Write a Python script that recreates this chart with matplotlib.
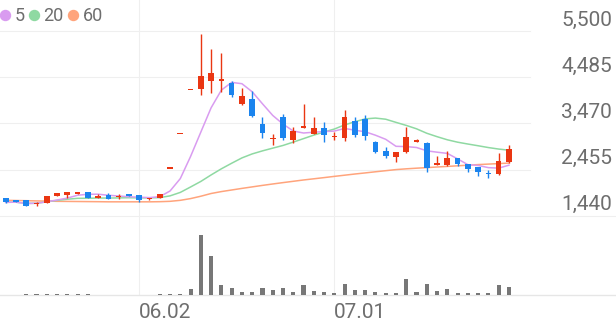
import numpy as np
import pandas as pd
import matplotlib.pyplot as plt
from matplotlib.lines import Line2D

plt.rcParams['font.family'] = ['Roboto', 'DejaVu Sans']

# daily candles, KRW
opens = [1824, 1780, 1787, 1692, 1728, 1875, 1897, 1926, 1956, 1838,
         1890, 1860, 1919, 1897, 1802, 1830, 2496, 3245, 4218, 4226,
         4408, 4401, 4351, 3890, 3999, 3452, 3127, 3604, 3105, 3362,
         3237, 3362, 3178, 3155, 3529, 3562, 3068, 2870, 2738, 2831,
         3080, 3046, 2556, 2556, 2703, 2571, 2505, 2387, 2352, 2628]
highs = [1835, 1785, 1792, 1735, 1880, 1940, 1960, 1970, 1970, 1919,
         1934, 1919, 1925, 1900, 1842, 1925, 2496, 3245, 4218, 5434,
         5098, 5010, 4401, 4241, 4182, 3604, 3237, 3687, 3397, 3907,
         3604, 3507, 3292, 3775, 3604, 3654, 3080, 2958, 2845, 3397,
         3120, 3068, 2754, 2870, 2720, 2580, 2510, 2446, 2813, 2995]
lows = [1725, 1738, 1650, 1662, 1722, 1870, 1824, 1920, 1835, 1835,
        1810, 1820, 1878, 1750, 1787, 1825, 2496, 3245, 4218, 4094,
        4131, 4160, 4043, 3874, 3617, 3160, 2995, 3105, 3040, 3362,
        3237, 3068, 3100, 3090, 3178, 3105, 2813, 2700, 2615, 2825,
        3060, 2409, 2550, 2540, 2540, 2409, 2314, 2264, 2345, 2607]
closes = [1736, 1743, 1655, 1728, 1875, 1934, 1956, 1963, 1838, 1882,
          1816, 1875, 1882, 1787, 1838, 1920, 2496, 3245, 4218, 4518,
          4588, 4438, 4094, 4072, 3632, 3270, 3157, 3143, 3310, 3413,
          3362, 3226, 3193, 3604, 3215, 3193, 2848, 2743, 2835, 3182,
          3095, 2483, 2593, 2703, 2578, 2461, 2396, 2352, 2650, 2901]
volumes = [8000, 8000, 45000, 45000, 45000, 45000, 45000, 45000, 45000, 8000,
           8000, 8000, 8000, 8000, 8000, 50000, 50000, 50000, 300000, 3000000,
           1950000, 525000, 330000, 175000, 175000, 350000, 260000, 350000, 175000, 525000,
           200000, 175000, 125000, 575000, 250000, 250000, 175000, 125000, 100000, 785000,
           175000, 550000, 225000, 300000, 125000, 125000, 100000, 125000, 490000, 400000]
# 60-day average (its history starts before the first candle)
ma60 = [1780, 1776, 1772, 1767, 1763, 1758, 1756, 1754, 1752, 1750,
        1747, 1747, 1747, 1747, 1747, 1750, 1758, 1780, 1818, 1870,
        1930, 1972, 2007, 2042, 2075, 2108, 2139, 2169, 2198, 2227,
        2253, 2279, 2306, 2332, 2358, 2382, 2407, 2431, 2455, 2472,
        2486, 2499, 2512, 2525, 2538, 2552, 2565, 2576, 2587, 2598]

price_ticks = [1440, 2455, 3470, 4485, 5500]
date_pos = [13, 32]
date_labels = ['06.02', '07.01']

RED = '#ea3612'
BLUE = '#1b84ee'
MA_COLORS = {5: '#d99cf0', 20: '#8fd9a2', 60: '#ffa47c'}
GRID = '#efefef'
TEXT = '#6e6e6e'

o = np.array(opens, float)
h = np.array(highs, float)
l = np.array(lows, float)
c = np.array(closes, float)
idx = np.arange(len(c))
ma5 = pd.Series(c).rolling(5, min_periods=1).mean()
ma20 = pd.Series(c).rolling(20, min_periods=1).mean()

W, H = 616, 321
fig = plt.figure(figsize=(W / 100, H / 100), dpi=100)
ax = fig.add_axes([0, 1 - 215.8 / H, 530 / W, 215.8 / H])
axv = fig.add_axes([0, 1 - 295 / H, 530 / W, 79.2 / H])

xlim = (-0.555, 51.05)
for a in (ax, axv):
    a.set_xlim(*xlim)
    a.axis('off')
    for p in date_pos:
        a.axvline(p, color=GRID, lw=0.8, zorder=0)

ax.set_ylim(1440, 6181)
for t in price_ticks:
    ext = 616 / 530 if t == price_ticks[0] else 1
    ax.axhline(t, xmin=0, xmax=ext, color=GRID, lw=0.8, zorder=0, clip_on=False)
    ax.annotate(f'{t:,}', xy=(1, t), xycoords=('axes fraction', 'data'),
                xytext=(82, 5.5), textcoords='offset pixels', ha='right',
                va='baseline', fontsize=15, color=TEXT, annotation_clip=False)

# moving averages under the candles
ax.plot(idx, ma60, color=MA_COLORS[60], lw=1.1, zorder=1)
ax.plot(idx, ma20, color=MA_COLORS[20], lw=1.1, zorder=1)
ax.plot(idx, ma5, color=MA_COLORS[5], lw=1.1, zorder=2)

colors = np.where(c >= o, RED, BLUE)
min_body = 35
body = np.abs(c - o)
bottom = np.where(body < min_body, (o + c) / 2 - min_body / 2, np.minimum(o, c))
ax.vlines(idx, l, h, colors=colors, lw=1.0, zorder=3)
ax.bar(idx, np.maximum(body, min_body), bottom=bottom, width=0.55,
       color=colors, zorder=4)

# volume
axv.set_ylim(0, 79.2 * 50000)
axv.bar(idx, volumes, width=0.4, color='#777777', zorder=2)
axv.axhline(0, xmin=0, xmax=616 / 530, color='#e6e6e6', lw=1.0, clip_on=False, zorder=1)
for p, lab in zip(date_pos, date_labels):
    axv.annotate(lab, xy=(p, 0), xycoords=('data', 'axes fraction'),
                 xytext=(0, -23.5), textcoords='offset pixels', ha='left',
                 va='baseline', fontsize=15, color=TEXT, annotation_clip=False)

handles = [Line2D([], [], ls='', marker='o', ms=7.2, color=MA_COLORS[k]) for k in (5, 20, 60)]
fig.legend(handles, ['5', '20', '60'], loc='upper left', ncol=3, frameon=False,
           bbox_to_anchor=(0.0, 0.978), fontsize=13, labelcolor=TEXT,
           handlelength=0.55, handletextpad=0.25, columnspacing=0.25,
           borderpad=0, borderaxespad=0)

fig.savefig('out.png', dpi=100, facecolor='white')
